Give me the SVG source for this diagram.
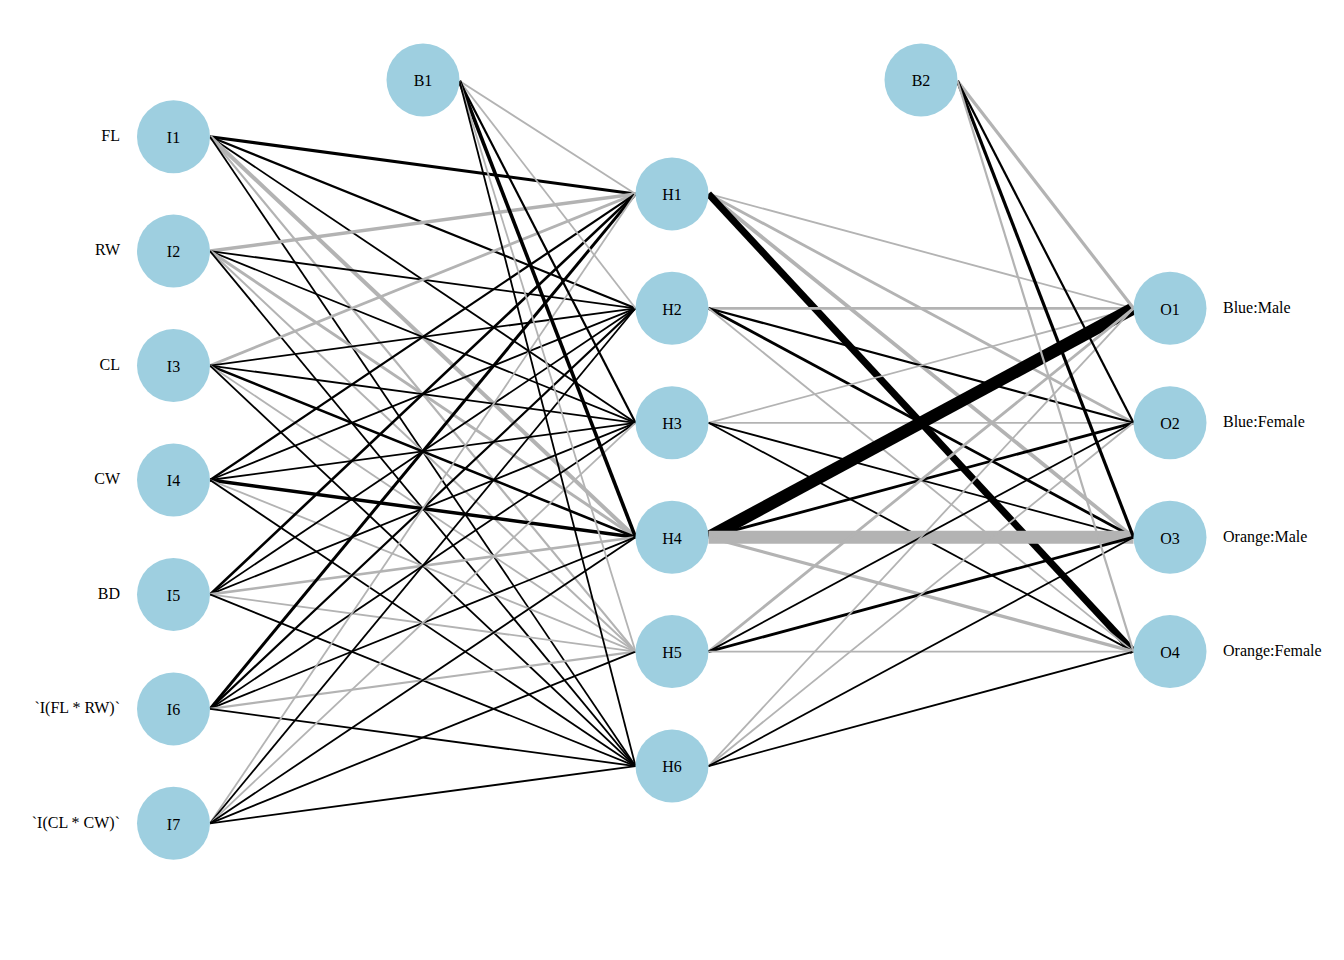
<svg xmlns="http://www.w3.org/2000/svg" width="1344" height="960" viewBox="0 0 1344 960">
<style>
.k{stroke:#000000;fill:none}
.g{stroke:#B3B3B3;fill:none}
.node circle{fill:#9ECFE0}
.node text{font-family:"Liberation Serif","Times New Roman",serif;font-size:16px;fill:#000;text-anchor:middle}
.lbl{font-family:"Liberation Serif","Times New Roman",serif;font-size:16px;fill:#000}
.lbl.l{text-anchor:end}
.lbl.r{text-anchor:start}
</style>
<rect x="0" y="0" width="1344" height="960" fill="#ffffff"/>
<g id="connectors">
<!-- I1 -->
<line class="k" stroke-width="3" x1="210" y1="136.7" x2="635.5" y2="193.9"/>
<line class="k" stroke-width="2.2" x1="210" y1="136.7" x2="635.5" y2="308.3"/>
<line class="k" stroke-width="1.8" x1="210" y1="136.7" x2="635.5" y2="422.8"/>
<line class="g" stroke-width="4" x1="210" y1="136.7" x2="635.5" y2="537.2"/>
<line class="g" stroke-width="2.2" x1="210" y1="136.7" x2="635.5" y2="651.6"/>
<line class="k" stroke-width="1.8" x1="210" y1="136.7" x2="635.5" y2="766.1"/>
<!-- I2 -->
<line class="g" stroke-width="3.5" x1="210" y1="251.1" x2="635.5" y2="193.9"/>
<line class="k" stroke-width="1.8" x1="210" y1="251.1" x2="635.5" y2="308.3"/>
<line class="k" stroke-width="1.8" x1="210" y1="251.1" x2="635.5" y2="422.8"/>
<line class="g" stroke-width="3" x1="210" y1="251.1" x2="635.5" y2="537.2"/>
<line class="g" stroke-width="2" x1="210" y1="251.1" x2="635.5" y2="651.6"/>
<line class="k" stroke-width="1.8" x1="210" y1="251.1" x2="635.5" y2="766.1"/>
<!-- I3 -->
<line class="g" stroke-width="2.8" x1="210" y1="365.6" x2="635.5" y2="193.9"/>
<line class="k" stroke-width="1.8" x1="210" y1="365.6" x2="635.5" y2="308.3"/>
<line class="k" stroke-width="1.8" x1="210" y1="365.6" x2="635.5" y2="422.8"/>
<line class="k" stroke-width="2.6" x1="210" y1="365.6" x2="635.5" y2="537.2"/>
<line class="g" stroke-width="1.8" x1="210" y1="365.6" x2="635.5" y2="651.6"/>
<line class="k" stroke-width="1.8" x1="210" y1="365.6" x2="635.5" y2="766.1"/>
<!-- I4 -->
<line class="k" stroke-width="2.2" x1="210" y1="480" x2="635.5" y2="193.9"/>
<line class="k" stroke-width="1.8" x1="210" y1="480" x2="635.5" y2="308.3"/>
<line class="k" stroke-width="1.8" x1="210" y1="480" x2="635.5" y2="422.8"/>
<line class="k" stroke-width="3.5" x1="210" y1="480" x2="635.5" y2="537.2"/>
<line class="g" stroke-width="1.8" x1="210" y1="480" x2="635.5" y2="651.6"/>
<line class="k" stroke-width="1.8" x1="210" y1="480" x2="635.5" y2="766.1"/>
<!-- I5 -->
<line class="k" stroke-width="2.6" x1="210" y1="594.4" x2="635.5" y2="193.9"/>
<line class="k" stroke-width="1.8" x1="210" y1="594.4" x2="635.5" y2="308.3"/>
<line class="k" stroke-width="1.8" x1="210" y1="594.4" x2="635.5" y2="422.8"/>
<line class="g" stroke-width="2.6" x1="210" y1="594.4" x2="635.5" y2="537.2"/>
<line class="g" stroke-width="1.8" x1="210" y1="594.4" x2="635.5" y2="651.6"/>
<line class="k" stroke-width="1.8" x1="210" y1="594.4" x2="635.5" y2="766.1"/>
<!-- I6 -->
<line class="k" stroke-width="3" x1="210" y1="708.9" x2="635.5" y2="193.9"/>
<line class="k" stroke-width="2.2" x1="210" y1="708.9" x2="635.5" y2="308.3"/>
<line class="k" stroke-width="1.8" x1="210" y1="708.9" x2="635.5" y2="422.8"/>
<line class="k" stroke-width="1.8" x1="210" y1="708.9" x2="635.5" y2="537.2"/>
<line class="g" stroke-width="2.2" x1="210" y1="708.9" x2="635.5" y2="651.6"/>
<line class="k" stroke-width="1.8" x1="210" y1="708.9" x2="635.5" y2="766.1"/>
<!-- I7 -->
<line class="g" stroke-width="1.8" x1="210" y1="823.3" x2="635.5" y2="193.9"/>
<line class="k" stroke-width="1.8" x1="210" y1="823.3" x2="635.5" y2="308.3"/>
<line class="g" stroke-width="1.8" x1="210" y1="823.3" x2="635.5" y2="422.8"/>
<line class="k" stroke-width="1.8" x1="210" y1="823.3" x2="635.5" y2="537.2"/>
<line class="k" stroke-width="1.8" x1="210" y1="823.3" x2="635.5" y2="651.6"/>
<line class="k" stroke-width="1.8" x1="210" y1="823.3" x2="635.5" y2="766.1"/>
<!-- B1 -->
<line class="g" stroke-width="1.8" x1="459.5" y1="81" x2="635.5" y2="193.9"/>
<line class="g" stroke-width="1.8" x1="459.5" y1="81" x2="635.5" y2="308.3"/>
<line class="k" stroke-width="2.2" x1="459.5" y1="81" x2="635.5" y2="422.8"/>
<line class="k" stroke-width="3.6" x1="459.5" y1="81" x2="635.5" y2="537.2"/>
<line class="g" stroke-width="1.8" x1="459.5" y1="81" x2="635.5" y2="651.6"/>
<line class="k" stroke-width="1.8" x1="459.5" y1="81" x2="635.5" y2="766.1"/>
<!-- H1 -->
<line class="g" stroke-width="1.8" x1="708.5" y1="193.9" x2="1133.5" y2="308.3"/>
<line class="g" stroke-width="2.8" x1="708.5" y1="193.9" x2="1133.5" y2="422.8"/>
<line class="g" stroke-width="3.8" x1="708.5" y1="193.9" x2="1133.5" y2="537.2"/>
<line class="k" stroke-width="7" x1="708.5" y1="193.9" x2="1133.5" y2="651.6"/>
<!-- H2 -->
<line class="g" stroke-width="2.8" x1="708.5" y1="308.3" x2="1133.5" y2="308.3"/>
<line class="k" stroke-width="2.2" x1="708.5" y1="308.3" x2="1133.5" y2="422.8"/>
<line class="k" stroke-width="2.8" x1="708.5" y1="308.3" x2="1133.5" y2="537.2"/>
<line class="g" stroke-width="1.8" x1="708.5" y1="308.3" x2="1133.5" y2="651.6"/>
<!-- H3 -->
<line class="g" stroke-width="1.8" x1="708.5" y1="422.8" x2="1133.5" y2="308.3"/>
<line class="g" stroke-width="1.8" x1="708.5" y1="422.8" x2="1133.5" y2="422.8"/>
<line class="k" stroke-width="1.8" x1="708.5" y1="422.8" x2="1133.5" y2="537.2"/>
<line class="k" stroke-width="1.8" x1="708.5" y1="422.8" x2="1133.5" y2="651.6"/>
<!-- H4 -->
<line class="k" stroke-width="12.5" x1="708.5" y1="537.2" x2="1133.5" y2="308.3"/>
<line class="k" stroke-width="2.8" x1="708.5" y1="537.2" x2="1133.5" y2="422.8"/>
<line class="g" stroke-width="13" x1="708.5" y1="537.2" x2="1133.5" y2="537.2"/>
<line class="g" stroke-width="3.2" x1="708.5" y1="537.2" x2="1133.5" y2="651.6"/>
<!-- H5 -->
<line class="g" stroke-width="2.8" x1="708.5" y1="651.6" x2="1133.5" y2="308.3"/>
<line class="k" stroke-width="1.8" x1="708.5" y1="651.6" x2="1133.5" y2="422.8"/>
<line class="k" stroke-width="2.8" x1="708.5" y1="651.6" x2="1133.5" y2="537.2"/>
<line class="g" stroke-width="1.8" x1="708.5" y1="651.6" x2="1133.5" y2="651.6"/>
<!-- H6 -->
<line class="g" stroke-width="1.8" x1="708.5" y1="766.1" x2="1133.5" y2="308.3"/>
<line class="g" stroke-width="1.8" x1="708.5" y1="766.1" x2="1133.5" y2="422.8"/>
<line class="k" stroke-width="1.8" x1="708.5" y1="766.1" x2="1133.5" y2="537.2"/>
<line class="k" stroke-width="1.8" x1="708.5" y1="766.1" x2="1133.5" y2="651.6"/>
<!-- B2 -->
<line class="g" stroke-width="3.2" x1="957.5" y1="81" x2="1133.5" y2="308.3"/>
<line class="k" stroke-width="2.2" x1="957.5" y1="81" x2="1133.5" y2="422.8"/>
<line class="k" stroke-width="3.2" x1="957.5" y1="81" x2="1133.5" y2="537.2"/>
<line class="g" stroke-width="2.2" x1="957.5" y1="81" x2="1133.5" y2="651.6"/>
</g>
<g id="I1" class="node"><circle cx="173.5" cy="136.7" r="36.5"/><text x="173.5" y="143">I1</text></g>
<g id="I2" class="node"><circle cx="173.5" cy="251.1" r="36.5"/><text x="173.5" y="257.4">I2</text></g>
<g id="I3" class="node"><circle cx="173.5" cy="365.6" r="36.5"/><text x="173.5" y="371.9">I3</text></g>
<g id="I4" class="node"><circle cx="173.5" cy="480" r="36.5"/><text x="173.5" y="486.3">I4</text></g>
<g id="I5" class="node"><circle cx="173.5" cy="594.4" r="36.5"/><text x="173.5" y="600.7">I5</text></g>
<g id="I6" class="node"><circle cx="173.5" cy="708.9" r="36.5"/><text x="173.5" y="715.2">I6</text></g>
<g id="I7" class="node"><circle cx="173.5" cy="823.3" r="36.5"/><text x="173.5" y="829.6">I7</text></g>
<g id="B1" class="node"><circle cx="423" cy="80" r="36.5"/><text x="423" y="86.3">B1</text></g>
<g id="H1" class="node"><circle cx="672" cy="193.9" r="36.5"/><text x="672" y="200.2">H1</text></g>
<g id="H2" class="node"><circle cx="672" cy="308.3" r="36.5"/><text x="672" y="314.6">H2</text></g>
<g id="H3" class="node"><circle cx="672" cy="422.8" r="36.5"/><text x="672" y="429.1">H3</text></g>
<g id="H4" class="node"><circle cx="672" cy="537.2" r="36.5"/><text x="672" y="543.5">H4</text></g>
<g id="H5" class="node"><circle cx="672" cy="651.6" r="36.5"/><text x="672" y="657.9">H5</text></g>
<g id="H6" class="node"><circle cx="672" cy="766.1" r="36.5"/><text x="672" y="772.4">H6</text></g>
<g id="B2" class="node"><circle cx="921" cy="80" r="36.5"/><text x="921" y="86.3">B2</text></g>
<g id="O1" class="node"><circle cx="1170" cy="308.3" r="36.5"/><text x="1170" y="314.6">O1</text></g>
<g id="O2" class="node"><circle cx="1170" cy="422.8" r="36.5"/><text x="1170" y="429.1">O2</text></g>
<g id="O3" class="node"><circle cx="1170" cy="537.2" r="36.5"/><text x="1170" y="543.5">O3</text></g>
<g id="O4" class="node"><circle cx="1170" cy="651.6" r="36.5"/><text x="1170" y="657.9">O4</text></g>
<g id="labels">
<text class="lbl l" x="120" y="141">FL</text>
<text class="lbl l" x="120" y="255.4">RW</text>
<text class="lbl l" x="120" y="369.9">CL</text>
<text class="lbl l" x="120" y="484.3">CW</text>
<text class="lbl l" x="120" y="598.7">BD</text>
<text class="lbl l" x="120" y="713.2">`I(FL * RW)`</text>
<text class="lbl l" x="120" y="827.6">`I(CL * CW)`</text>
<text class="lbl r" x="1223" y="312.6">Blue:Male</text>
<text class="lbl r" x="1223" y="427.1">Blue:Female</text>
<text class="lbl r" x="1223" y="541.5">Orange:Male</text>
<text class="lbl r" x="1223" y="655.9">Orange:Female</text>
</g>
</svg>
